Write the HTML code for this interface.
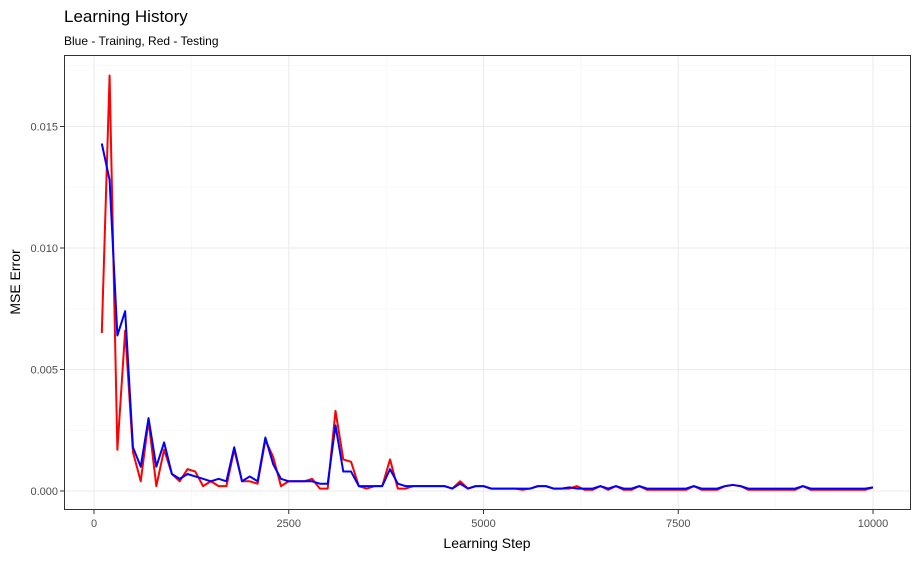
<!DOCTYPE html>
<html><head><meta charset="utf-8"><style>
body{margin:0;background:#fff;}
svg text{font-family:"Liberation Sans",Arial,sans-serif;}
</style></head><body>
<svg id="chart" width="919" height="558">
<text x="64" y="22" font-size="17" fill="#000">Learning History</text>
<text x="64" y="45" font-size="12" fill="#000">Blue - Training, Red - Testing</text>
<g id="grid"></g>
<g id="series"></g>
<rect x="64.5" y="55.5" width="846" height="454" fill="none" stroke="#333" stroke-width="1"/>
<g id="axes"></g>
<text x="487" y="548" font-size="14" text-anchor="middle">Learning Step</text>
<text transform="translate(20,282) rotate(-90)" font-size="14" text-anchor="middle">MSE Error</text>
</svg>
<script>
const steps = Array.from({length:100},(_,i)=>(i+1)*100);
const testing = [
.0065,.0171,.0017,.0066,.0016,.0004,.0029,.0002,.0017,.0007,
.0004,.0009,.0008,.0002,.0004,.0002,.0002,.0017,.0004,.0004,
.0003,.0021,.0014,.0002,.0004,.0004,.0004,.0005,.0001,.0001,
.0033,.0013,.0012,.0002,.0001,.0002,.0002,.0013,.0001,.0001,
.0002,.0002,.0002,.0002,.0002,.0001,.0004,.0001,.0002,.0002,
.0001,.0001,.0001,.0001,.00005,.0001,.0002,.0002,.0001,.0001,
.0001,.0002,.00005,.00005,.0002,.00005,.0002,.00005,.00005,.0002,
.00005,.00005,.00005,.00005,.00005,.00005,.0002,.00005,.00005,.00005,
.0002,.00025,.0002,.00005,.00005,.00005,.00005,.00005,.00005,.00005,
.0002,.00005,.00005,.00005,.00005,.00005,.00005,.00005,.00005,.00015];
const training = [
.0143,.0128,.0064,.0074,.0018,.0010,.0030,.0010,.0020,.0007,
.0005,.0007,.0006,.0005,.0004,.0005,.0004,.0018,.0004,.0006,
.0004,.0022,.0011,.0005,.0004,.0004,.0004,.0004,.0003,.0003,
.0027,.0008,.0008,.0002,.0002,.0002,.0002,.0009,.0003,.0002,
.0002,.0002,.0002,.0002,.0002,.0001,.0003,.0001,.0002,.0002,
.0001,.0001,.0001,.0001,.0001,.0001,.0002,.0002,.0001,.0001,
.00015,.0001,.0001,.0001,.0002,.0001,.0002,.0001,.0001,.0002,
.0001,.0001,.0001,.0001,.0001,.0001,.0002,.0001,.0001,.0001,
.0002,.00025,.0002,.0001,.0001,.0001,.0001,.0001,.0001,.0001,
.0002,.0001,.0001,.0001,.0001,.0001,.0001,.0001,.0001,.00015];
const xTicks = [0,2500,5000,7500,10000];
const xTickLabels = ["0","2500","5000","7500","10000"];
const yTicks = [0,0.005,0.010,0.015];
const yTickLabels = ["0.000","0.005","0.010","0.015"];

const NS="http://www.w3.org/2000/svg";
const X=v=>94+v*0.0779;
const Y=v=>491-v*24300;
function mk(tag,attrs,parent){const e=document.createElementNS(NS,tag);for(const k in attrs)e.setAttribute(k,attrs[k]);parent.appendChild(e);return e;}
const grid=document.getElementById('grid'),axes=document.getElementById('axes'),series=document.getElementById('series');
// minor grid
for(let i=0;i<xTicks.length-1;i++){const m=(xTicks[i]+xTicks[i+1])/2;
 const l=mk('line',{x1:X(m),x2:X(m),y1:55,y2:510,stroke:'#f3f3f3','stroke-width':0.6},grid);
 
 }
for(let i=0;i<yTicks.length;i++){const m=yTicks[i]+0.0025;
 const l=mk('line',{x1:64,x2:911,y1:Y(m),y2:Y(m),stroke:'#f3f3f3','stroke-width':0.6},grid);
 
 }
xTicks.forEach((t,i)=>{
 const l=mk('line',{x1:X(t),x2:X(t),y1:55,y2:510,stroke:'#ebebeb','stroke-width':1.1},grid);
 
 
 const tk=mk('line',{x1:X(t),x2:X(t),y1:510,y2:514,stroke:'#333'},axes);
 
 
 const tx=mk('text',{x:X(t),y:527,'font-size':11,'text-anchor':'middle',fill:'#4d4d4d'},axes);
 tx.textContent=xTickLabels[i];
 
 
});
yTicks.forEach((t,i)=>{
 const l=mk('line',{x1:64,x2:911,y1:Y(t),y2:Y(t),stroke:'#ebebeb','stroke-width':1.1},grid);
 
 
 const tk=mk('line',{x1:60,x2:64,y1:Y(t),y2:Y(t),stroke:'#333'},axes);
 
 
 const tx=mk('text',{x:58,y:Y(t)+4,'font-size':11,'text-anchor':'end',fill:'#4d4d4d'},axes);
 tx.textContent=yTickLabels[i];
 
 
});
function line(vals,color,name){
 const d=vals.map((v,i)=>(i?'L':'M')+X(steps[i]).toFixed(2)+','+Y(v).toFixed(2)).join(' ');
 const p=mk('path',{d:d,fill:'none',stroke:color,'stroke-width':2,'stroke-linejoin':'round'},series);
 
 
}
line(testing,'#ff0000','testing-line');
line(training,'#0000ff','training-line');
</script>
</body></html>
